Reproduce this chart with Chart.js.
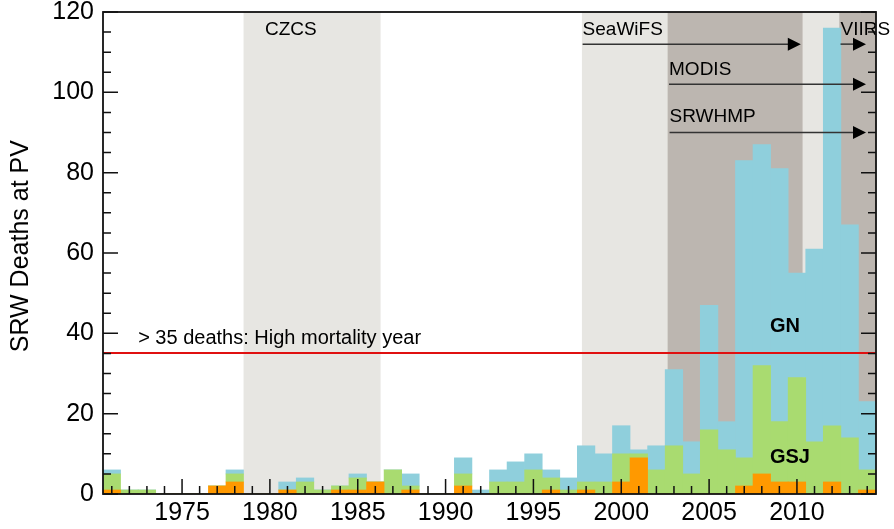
<!DOCTYPE html>
<html>
<head>
<meta charset="utf-8">
<script src="https://cdn.jsdelivr.net/npm/chart.js@4.4.0/dist/chart.umd.min.js"></script>
<style>
    html, body { margin: 0; padding: 0; background: #fff; }
    #wrap { width: 894px; height: 529px; }
</style>
</head>
<body>
<div id="wrap"><canvas id="deathChart"></canvas></div>
<script>
// year bins
const years = [1971, 1972, 1973, 1974, 1975, 1976, 1977, 1978, 1979, 1980,
    1981, 1982, 1983, 1984, 1985, 1986, 1987, 1988, 1989, 1990,
    1991, 1992, 1993, 1994, 1995, 1996, 1997, 1998, 1999, 2000,
    2001, 2002, 2003, 2004, 2005, 2006, 2007, 2008, 2009, 2010,
    2011, 2012, 2013, 2014];

// stacked: other (bottom), GSJ, GN (top)
const otherDeaths = [1, 0, 0, 0, 0, 0, 2, 3, 0, 0,
    1, 0, 0, 1, 1, 3, 0, 1, 0, 0,
    2, 0, 0, 0, 0, 1, 0, 1, 0, 3,
    9, 0, 0, 0, 0, 0, 2, 5, 3, 3,
    0, 3, 0, 1];
const gsjDeaths = [4, 1, 1, 0, 0, 0, 0, 2, 0, 0,
    0, 3, 1, 1, 3, 0, 6, 1, 0, 0,
    3, 0, 3, 3, 6, 3, 1, 2, 3, 7,
    1, 6, 12, 5, 16, 11, 7, 27, 15, 26,
    13, 14, 14, 5];
const gnDeaths = [1, 0, 0, 0, 0, 0, 0, 1, 0, 0,
    2, 1, 0, 0, 1, 0, 0, 3, 0, 0,
    4, 1, 3, 5, 4, 2, 3, 9, 7, 7,
    1, 6, 19, 8, 31, 7, 74, 55, 63, 26,
    48, 99, 53, 17];

const yTicks = [0, 20, 40, 60, 80, 100, 120];
const highMortality = 35;

// satellite coverage (decimal years)
const singleCover = [[1978.5, 1986.3], [1997.76, 2014.5]];
const doubleCover = [[2002.64, 2010.32], [2012.41, 2014.5]];
const missions = [
    { name: 'CZCS', start: 1979.72, end: null, text: 115.6, arrow: null },
    { name: 'SeaWiFS', start: 1997.8, end: 2010.22, text: 115.6, arrow: 112 },
    { name: 'VIIRS', start: 2012.48, end: 2013.93, text: 115.6, arrow: 112 },
    { name: 'MODIS', start: 2002.72, end: 2013.93, text: 105.6, arrow: 102 },
    { name: 'SRWHMP', start: 2002.75, end: 2013.93, text: 93.9, arrow: 90 }
];

const FONT = '"Liberation Sans", Arial, Helvetica, sans-serif';
const LIGHT = '#e7e6e2';
const DARK = '#bcb6b0';

// decimal year -> pixel through the category scale
const yearPx = (x, yr) => x.getPixelForValue(yr - years[0]);

const overlay = {
    id: 'overlay',
    beforeDatasetsDraw(chart) {
        const { ctx, chartArea: a, scales } = chart;
        const x = scales.x;
        ctx.save();
        ctx.fillStyle = LIGHT;
        singleCover.forEach(([s, e]) => {
            const x0 = yearPx(x, s), x1 = yearPx(x, e);
            ctx.fillRect(x0, a.top, x1 - x0, a.bottom - a.top);
        });
        ctx.fillStyle = DARK;
        doubleCover.forEach(([s, e]) => {
            const x0 = yearPx(x, s), x1 = yearPx(x, e);
            ctx.fillRect(x0, a.top, x1 - x0, a.bottom - a.top);
        });
        ctx.restore();
    },
    afterDatasetsDraw(chart) {
        const { ctx, chartArea: a, scales } = chart;
        const x = scales.x, y = scales.y;
        ctx.save();

        // threshold line
        const yt = Math.round(y.getPixelForValue(highMortality));
        ctx.strokeStyle = '#e01010';
        ctx.lineWidth = 2;
        ctx.beginPath();
        ctx.moveTo(a.left, yt);
        ctx.lineTo(a.right, yt);
        ctx.stroke();

        ctx.fillStyle = '#000';
        ctx.textBaseline = 'middle';
        ctx.textAlign = 'left';
        ctx.font = '20px ' + FONT;
        ctx.fillText('> 35 deaths: High mortality year', yearPx(x, 1972.5), y.getPixelForValue(38.8));

        // mission labels + arrows
        ctx.font = '19px ' + FONT;
        missions.forEach(m => {
            const x0 = yearPx(x, m.start);
            ctx.fillStyle = '#000';
            ctx.fillText(m.name, x0, y.getPixelForValue(m.text));
            if (m.arrow === null) return;
            const ly = y.getPixelForValue(m.arrow);
            const x1 = yearPx(x, m.end);
            ctx.strokeStyle = '#333';
            ctx.lineWidth = 1.5;
            ctx.beginPath();
            ctx.moveTo(x0, ly);
            ctx.lineTo(x1 - 8, ly);
            ctx.stroke();
            ctx.beginPath();
            ctx.moveTo(x1, ly);
            ctx.lineTo(x1 - 13, ly - 6.5);
            ctx.lineTo(x1 - 13, ly + 6.5);
            ctx.closePath();
            ctx.fill();
        });

        // region labels
        ctx.font = 'bold 20px ' + FONT;
        ctx.fillText('GN', yearPx(x, 2008.46), y.getPixelForValue(41.8));
        ctx.fillText('GSJ', yearPx(x, 2008.46), y.getPixelForValue(9));

        // y title
        ctx.save();
        ctx.translate(21, y.getPixelForValue(61.7));
        ctx.rotate(-Math.PI / 2);
        ctx.textAlign = 'center';
        ctx.font = '25px ' + FONT;
        ctx.fillText('SRW Deaths at PV', 0, 0);
        ctx.restore();

        // ticks (inside)
        ctx.strokeStyle = '#111';
        ctx.lineWidth = 1.5;
        ctx.beginPath();
        years.forEach((yr, i) => {
            const px = x.getPixelForValue(i);
            const len = yr % 5 === 0 ? 15 : 8;
            ctx.moveTo(px, a.bottom);
            ctx.lineTo(px, a.bottom - len);
        });
        for (let v = 0; v <= 120; v += 5) {
            const py = y.getPixelForValue(v);
            const len = v % 20 === 0 ? 15 : 8;
            ctx.moveTo(a.left, py);
            ctx.lineTo(a.left + len, py);
            ctx.moveTo(a.right, py);
            ctx.lineTo(a.right - len, py);
        }
        ctx.stroke();

        // frame
        ctx.lineWidth = 1.8;
        ctx.strokeRect(a.left, a.top, a.right - a.left, a.bottom - a.top);
        ctx.restore();
    }
};

const ctx = document.getElementById('deathChart').getContext('2d');

const data = {
    labels: years,
    datasets: [
        { label: 'Other', data: otherDeaths, backgroundColor: '#ff9900' },
        { label: 'GSJ', data: gsjDeaths, backgroundColor: '#a9db70' },
        { label: 'GN', data: gnDeaths, backgroundColor: '#8fcfdc' }
    ]
};
data.datasets.forEach(d => {
    d.borderWidth = 0;
    d.barPercentage = 1;
    d.categoryPercentage = 1;
});

const config = {
    type: 'bar',
    data: data,
    plugins: [overlay],
    options: {
        responsive: true,
        maintainAspectRatio: false,
        animation: false,
        layout: { padding: { left: 0, right: 18, top: 12, bottom: 0 } },
        plugins: {
            legend: { display: false },
            tooltip: { enabled: false }
        },
        scales: {
            x: {
                stacked: true,
                grid: { display: false, drawTicks: false },
                border: { display: false },
                ticks: {
                    autoSkip: false,
                    maxRotation: 0,
                    padding: 4,
                    color: '#000',
                    font: { family: FONT, size: 25 },
                    callback: (val, i) => years[i] % 5 === 0 ? String(years[i]) : null
                },
                afterFit: s => { s.height = 35; s.paddingLeft = 0; s.paddingRight = 0; }
            },
            y: {
                stacked: true,
                min: 0,
                max: 120,
                grid: { display: false, drawTicks: false },
                border: { display: false },
                ticks: {
                    stepSize: 20,
                    padding: 9,
                    color: '#000',
                    font: { family: FONT, size: 25 },
                    callback: v => yTicks.includes(v) ? String(v) : null
                },
                afterFit: s => { s.width = 103; s.paddingTop = 0; s.paddingBottom = 0; }
            }
        }
    }
};

new Chart(ctx, config);
</script>
</body>
</html>
